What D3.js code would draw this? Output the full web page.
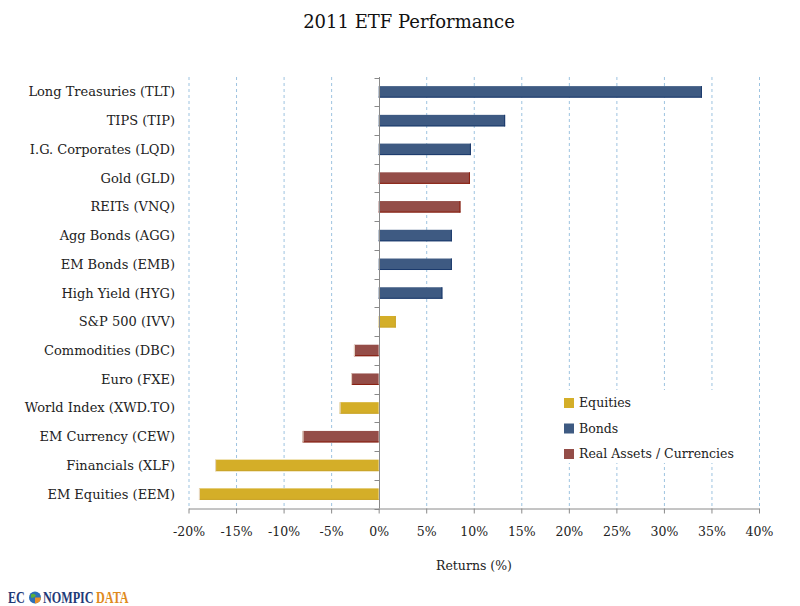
<!DOCTYPE html>
<html><head><meta charset="utf-8">
<script src="https://cdn.jsdelivr.net/npm/d3@7"></script>
<style>body{margin:0;background:#fff}svg{display:block}</style>
</head><body>
<svg id="c" width="800" height="606"></svg>
<script>
const categories = ["Long Treasuries (TLT)","TIPS (TIP)","I.G. Corporates (LQD)","Gold (GLD)","REITs (VNQ)","Agg Bonds (AGG)","EM Bonds (EMB)","High Yield (HYG)","S&P 500 (IVV)","Commodities (DBC)","Euro (FXE)","World Index (XWD.TO)","EM Currency (CEW)","Financials (XLF)","EM Equities (EEM)"];
const returns = [34.0,13.3,9.7,9.6,8.6,7.7,7.7,6.7,1.8,-2.6,-2.9,-4.1,-8.0,-17.2,-18.9];
const groups = ["Bonds","Bonds","Bonds","Real Assets / Currencies","Real Assets / Currencies","Bonds","Bonds","Bonds","Equities","Real Assets / Currencies","Real Assets / Currencies","Equities","Real Assets / Currencies","Equities","Equities"];
const legendItems = ["Equities","Bonds","Real Assets / Currencies"];
const xTicks = [-20,-15,-10,-5,0,5,10,15,20,25,30,35,40];

const fills = {"Equities":"#D4AE28","Bonds":"#3E5A82","Real Assets / Currencies":"#944D48"};
const edges = {"Equities":"#C9A42A","Bonds":"#1B3A6C","Real Assets / Currencies":"#8A1E0E"};
const font = "'DejaVu Serif', serif";

const svg = d3.select("#c");
const x = d3.scaleLinear().domain([-20,40]).range([188.5,759]);
const y = d3.scaleBand().domain(categories).range([77.5,508.5]).paddingInner(0.6).paddingOuter(0.3);

// title
svg.append("text").attr("x",409).attr("y",28).attr("text-anchor","middle")
  .style("font-family",font).style("font-size","18px").attr("fill","#111").text("2011 ETF Performance");

// gridlines
svg.append("g").selectAll("line").data(xTicks.filter(d=>d!==0)).join("line")
  .attr("x1",d=>x(d)+0.5).attr("x2",d=>x(d)+0.5).attr("y1",77).attr("y2",508.5)
  .attr("stroke","#9DC3E0").attr("stroke-width",1).attr("stroke-dasharray","3,3");

// bars
const data = categories.map((c,i)=>({c,v:returns[i],g:groups[i]}));
const bars = svg.append("g");
bars.selectAll("rect").data(data).join("rect")
  .attr("x",d=>x(Math.min(0,d.v))).attr("width",d=>Math.abs(x(d.v)-x(0)))
  .attr("y",d=>y(d.c)).attr("height",y.bandwidth())
  .attr("fill",d=>fills[d.g]);
bars.selectAll("line.b").data(data).join("line").attr("class","b")
  .attr("x1",d=>x(Math.min(0,d.v))).attr("x2",d=>x(Math.max(0,d.v)))
  .attr("y1",d=>y(d.c)+y.bandwidth()-0.5).attr("y2",d=>y(d.c)+y.bandwidth()-0.5)
  .attr("stroke",d=>edges[d.g]).attr("stroke-width",1);
bars.selectAll("line.e").data(data).join("line").attr("class","e")
  .attr("x1",d=>x(d.v)+(d.v>0?-0.5:0.5)).attr("x2",d=>x(d.v)+(d.v>0?-0.5:0.5))
  .attr("y1",d=>y(d.c)).attr("y2",d=>y(d.c)+y.bandwidth())
  .attr("stroke",d=>d.v>0?edges[d.g]:"#e8d9c8").attr("stroke-width",1);

// vertical axis at 0
const x0 = Math.round(x(0))+0.5;
svg.append("line").attr("x1",x0).attr("x2",x0).attr("y1",77).attr("y2",508.5).attr("stroke","#8a8a8a");
svg.append("g").selectAll("line").data(d3.range(categories.length+1)).join("line")
  .attr("x1",x0-5).attr("x2",x0).attr("y1",i=>Math.round(77.5+i*y.step())+0.5).attr("y2",i=>Math.round(77.5+i*y.step())+0.5)
  .attr("stroke","#8a8a8a");

// category labels
svg.append("g").selectAll("text").data(categories).join("text")
  .attr("x",175).attr("y",d=>y(d)+y.bandwidth()/2).attr("dy","0.35em").attr("text-anchor","end")
  .style("font-family",font).style("font-size","13px").attr("fill","#222").text(d=>d);

// bottom axis
const xa = svg.append("g").attr("transform","translate(0,508.5)")
  .call(d3.axisBottom(x).tickValues(xTicks).tickSize(5).tickSizeOuter(0).tickFormat(d=>d+"%"));
xa.select(".domain").attr("stroke","#8a8a8a");
xa.selectAll(".tick line").attr("stroke","#8a8a8a");
xa.selectAll(".tick text").attr("y",19).style("font-family",font).style("font-size","12.5px").attr("fill","#222");

// x title
svg.append("text").attr("x",474).attr("y",570).attr("text-anchor","middle")
  .style("font-family",font).style("font-size","12.5px").attr("fill","#222").text("Returns (%)");

// legend
const lg = svg.append("g");
lg.append("rect").attr("x",553).attr("y",390).attr("width",203).attr("height",73).attr("fill","#fff");
lg.selectAll("rect.s").data(legendItems).join("rect").attr("class","s")
  .attr("x",564).attr("y",(d,i)=>398+i*25.5).attr("width",10).attr("height",10).attr("fill",d=>fills[d]);
lg.selectAll("text").data(legendItems).join("text")
  .attr("x",579).attr("y",(d,i)=>403+i*25.5).attr("dy","0.35em")
  .style("font-family",font).style("font-size","12.5px").attr("fill","#222").text(d=>d);

// logo
const logo = svg.append("g");
const gx=35, gy=597.5;
logo.append("circle").attr("cx",gx).attr("cy",gy).attr("r",6).attr("fill","#2C6FB8");
logo.append("path").attr("d",`M${gx} ${gy} L${gx+6} ${gy} A6 6 0 0 1 ${gx} ${gy+6} Z`).attr("fill","#E8912A");
logo.append("path").attr("d",`M${gx-4} ${gy-3} q3 -2 5 1 q-2 3 -5 2 Z`).attr("fill","#5BAE3A");
const lt = logo.append("text").attr("transform","translate(8,603) scale(0.76,1)")
  .style("font-family","'Liberation Serif', serif").style("font-weight","bold").style("font-size","16px");
lt.append("tspan").attr("x",0).attr("fill","#1F3A78").text("EC");
lt.append("tspan").attr("x",(43-8)/0.76).attr("fill","#1F3A78").text("NOMPIC");
lt.append("tspan").attr("x",(96-8)/0.76).attr("fill","#E08A1C").text("DATA");
</script>
</body></html>
